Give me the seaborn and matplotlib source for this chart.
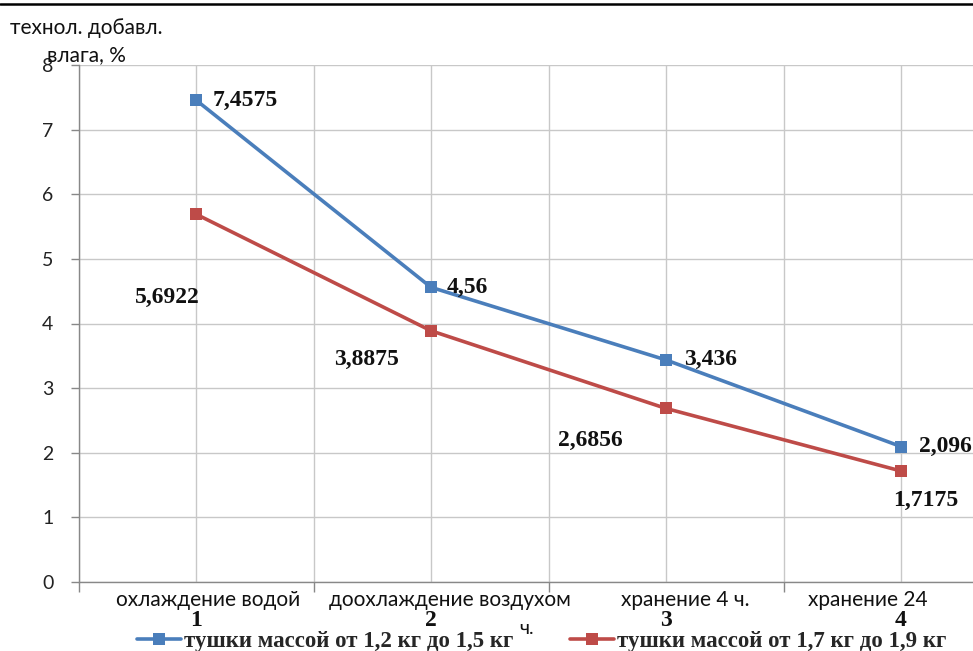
import numpy as np
import pandas as pd
import matplotlib
matplotlib.use("Agg")
import matplotlib.pyplot as plt
from matplotlib.lines import Line2D
import seaborn as sns

# ---- data ----
stages = [1, 2, 3, 4]
stage_names = ["охлаждение водой", "доохлаждение воздухом", "хранение 4 ч.", "хранение 24"]
series_names = ["тушки массой от 1,2 кг до 1,5 кг", "тушки массой от 1,7 кг до 1,9 кг"]
values_light = [7.4575, 4.56, 3.436, 2.096]
values_heavy = [5.6922, 3.8875, 2.6856, 1.7175]
labels_light = ["7,4575", "4,56", "3,436", "2,096"]
labels_heavy = ["5,6922", "3,8875", "2,6856", "1,7175"]
y_ticks = [0, 1, 2, 3, 4, 5, 6, 7, 8]

df = pd.DataFrame({
    "stage": stages * 2,
    "value": values_light + values_heavy,
    "series": [series_names[0]] * 4 + [series_names[1]] * 4,
})

colors = {series_names[0]: "#4A7EBB", series_names[1]: "#BE4B48"}

sns.set_theme(style="white")
SANS = ["Lato", "DejaVu Sans"]
SERIF = ["Liberation Serif", "DejaVu Serif"]
plt.rcParams["font.family"] = SANS

W, H = 973, 651
fig = plt.figure(figsize=(W / 100, H / 100), dpi=100)
x0, y0, ytop = 78.5, 582, 65
ax = fig.add_axes([x0 / W, (H - y0) / H, (W - x0) / W, (y0 - ytop) / H])

sns.lineplot(data=df, x="stage", y="value", hue="series", palette=colors,
             style="series", markers={s: "s" for s in series_names}, dashes=False,
             linewidth=2.6, markersize=8, markeredgewidth=0, ax=ax, legend=False)

ax.set_yticks(y_ticks)
ax.set_yticklabels([str(t) for t in y_ticks], fontsize=14, color="#222222")
ax.set_xticks(stages)
ax.set_xticklabels([])
ax.set_xticks([s - 0.5 for s in stages] + [4.5], minor=True)
ax.set_xlim(0.5, 0.5 + (W - x0) / 235.0)
ax.set_ylim(0, 8)
ax.tick_params(axis="x", which="major", length=0)
ax.tick_params(axis="x", which="minor", length=7, width=1, color="#888888", direction="out", bottom=True)
ax.tick_params(axis="y", length=6, width=1, color="#888888", direction="out", left=True, pad=12)
ax.grid(True, which="both", axis="x", color="#c8c8c8", linewidth=1)
ax.grid(True, which="major", axis="y", color="#c8c8c8", linewidth=1)
ax.set_xlabel("")
ax.set_ylabel("")
for side in ["top", "right"]:
    ax.spines[side].set_visible(False)
for side in ["left", "bottom"]:
    ax.spines[side].set_color("#888888")
    ax.spines[side].set_linewidth(1)

# data labels
off_light = [(17, 0), (16, 0), (18, 0), (18, 0)]
off_heavy = [(-29, -83), (-65, -29), (-76, -32), (25, -29)]
for s, v, lab, (dx, dy) in zip(stages, values_light, labels_light, off_light):
    ax.annotate(lab, (s, v), xytext=(dx, dy), textcoords="offset pixels",
                ha="left", va="center", fontsize=17, fontweight="bold",
                family=SERIF, color="#111111")
for s, v, lab, (dx, dy) in zip(stages, values_heavy, labels_heavy, off_heavy):
    ax.annotate(lab, (s, v), xytext=(dx, dy), textcoords="offset pixels",
                ha="center", va="center", fontsize=17, fontweight="bold",
                family=SERIF, color="#111111")

# category labels (two lines)
name_dx = [12, 19, 19, -33]
for s, name, dx in zip(stages, stage_names, name_dx):
    ax.annotate(name, (s, 0), xytext=(dx, -18), textcoords="offset pixels",
                ha="center", va="center", fontsize=15, color="#111111",
                annotation_clip=False)
    ax.annotate(str(s), (s, 0), xytext=(0, -38), textcoords="offset pixels",
                ha="center", va="center", fontsize=17, fontweight="bold",
                family=SERIF, color="#111111", annotation_clip=False)
fig.text(527 / W, 1 - 629 / H, "ч.", ha="center", va="center", fontsize=14, color="#111111")

# y title
fig.text(86 / W, 1 - 28 / H, "технол. добавл.", ha="center", va="center", fontsize=15, color="#111111")
fig.text(86 / W, 1 - 55 / H, "влага, %", ha="center", va="center", fontsize=15, color="#111111")

# legend
handles = [Line2D([], [], color=colors[n], marker="s", markersize=8, markeredgewidth=0, linewidth=2.6)
           for n in series_names]
fig.legend(handles, series_names, loc="center left", bbox_to_anchor=(137 / W, 1 - 641 / H),
           ncol=2, frameon=False, prop={"family": SERIF, "weight": "bold", "size": 16.5},
           handlelength=1.9, handletextpad=0.14, columnspacing=2.5, borderpad=0, borderaxespad=0)

# top border line
fig.add_artist(Line2D([0, 1], [1 - 3.5 / H, 1 - 3.5 / H], color="black", linewidth=1.8,
                      transform=fig.transFigure))

fig.savefig("out.png", dpi=100)
